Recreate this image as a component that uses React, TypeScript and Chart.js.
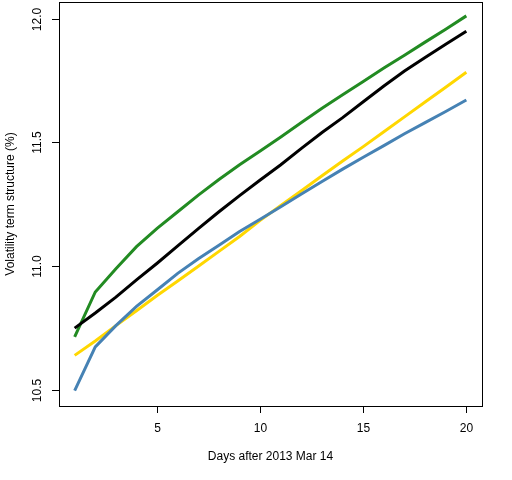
import React, { useEffect, useRef } from "react";
import { Chart, registerables } from "chart.js";

Chart.register(...registerables);

const days = [1, 2, 3, 4, 5, 6, 7, 8, 9, 10, 11, 12, 13, 14, 15, 16, 17, 18, 19, 20];
const greenSeries = [10.715, 10.896, 10.99, 11.079, 11.153, 11.22, 11.287, 11.35, 11.41, 11.465, 11.522, 11.58, 11.638, 11.692, 11.746, 11.8, 11.852, 11.905, 11.957, 12.011];
const blackSeries = [10.75, 10.811, 10.875, 10.945, 11.012, 11.082, 11.152, 11.22, 11.285, 11.348, 11.41, 11.476, 11.54, 11.6, 11.664, 11.728, 11.788, 11.843, 11.896, 11.949];
const goldSeries = [10.64, 10.698, 10.76, 10.82, 10.882, 10.94, 11.0, 11.06, 11.12, 11.185, 11.245, 11.305, 11.365, 11.425, 11.483, 11.543, 11.603, 11.663, 11.723, 11.783];
const blueSeries = [10.498, 10.674, 10.76, 10.838, 10.904, 10.971, 11.03, 11.085, 11.14, 11.19, 11.24, 11.292, 11.342, 11.392, 11.44, 11.487, 11.535, 11.58, 11.625, 11.671];
const xTicks = [5, 10, 15, 20];
const yTicks = [10.5, 11.0, 11.5, 12.0];
const yTickLabels = ["10.5", "11.0", "11.5", "12.0"];
const xTitle = "Days after 2013 Mar 14";
const yTitle = "Volatility term structure (%)";

const FONT = '12px "Liberation Sans", Arial, sans-serif';

const axesPlugin = {
  id: "rAxes",
  afterDraw(chart: any) {
    const ctx = chart.ctx;
    const { left, right, top, bottom } = chart.chartArea;
    const xs = chart.scales.x;
    const ys = chart.scales.y;
    ctx.save();
    ctx.strokeStyle = "#000";
    ctx.lineWidth = 1;
    ctx.strokeRect(Math.round(left) + 0.5, Math.round(top) + 0.5, Math.round(right - left), Math.round(bottom - top));
    ctx.fillStyle = "#000";
    ctx.font = FONT;
    ctx.textAlign = "center";
    ctx.textBaseline = "middle";
    xTicks.forEach((t) => {
      const px = Math.round(xs.getPixelForValue(t)) + 0.5;
      ctx.beginPath();
      ctx.moveTo(px, bottom);
      ctx.lineTo(px, bottom + 7);
      ctx.stroke();
      ctx.fillText(String(t), px, bottom + 23);
    });
    yTicks.forEach((t, i) => {
      const py = Math.round(ys.getPixelForValue(t)) + 0.5;
      ctx.beginPath();
      ctx.moveTo(left, py);
      ctx.lineTo(left - 7, py);
      ctx.stroke();
      ctx.save();
      ctx.translate(left - 21, py);
      ctx.rotate(-Math.PI / 2);
      ctx.fillText(yTickLabels[i], 0, 0);
      ctx.restore();
    });
    ctx.fillText(xTitle, (left + right) / 2, bottom + 51);
    ctx.save();
    ctx.translate(11, (top + bottom) / 2);
    ctx.rotate(-Math.PI / 2);
    ctx.fillText(yTitle, 0, 0);
    ctx.restore();
    ctx.restore();
  },
};

export default function App() {
  const ref = useRef<HTMLCanvasElement>(null);
  useEffect(() => {
    document.body.style.margin = "0";
    const canvas = ref.current;
    if (!canvas) return;
    const mk = (data: number[], color: string, order: number) => ({
      data: days.map((d, i) => ({ x: d, y: data[i] })),
      borderColor: color,
      backgroundColor: color,
      borderWidth: 3,
      pointRadius: 0,
      tension: 0,
      fill: false,
      order,
    });
    const chart = new Chart(canvas, {
      type: "line",
      data: {
        datasets: [
          mk(greenSeries, "#228B22", 4),
          mk(blackSeries, "#000000", 3),
          mk(goldSeries, "#FFD700", 2),
          mk(blueSeries, "#4682B4", 1),
        ],
      },
      options: {
        animation: false,
        responsive: false,
        devicePixelRatio: 1,
        layout: { padding: { left: 59, right: 30, top: 2, bottom: 74 } },
        plugins: { legend: { display: false }, tooltip: { enabled: false } },
        scales: {
          x: { type: "linear", min: 0.24, max: 20.76, display: false },
          y: { type: "linear", min: 10.4355, max: 12.067, display: false },
        },
      },
      plugins: [axesPlugin],
    });
    return () => chart.destroy();
  }, []);
  return <canvas ref={ref} width={512} height={480} style={{ display: "block" }} />;
}
